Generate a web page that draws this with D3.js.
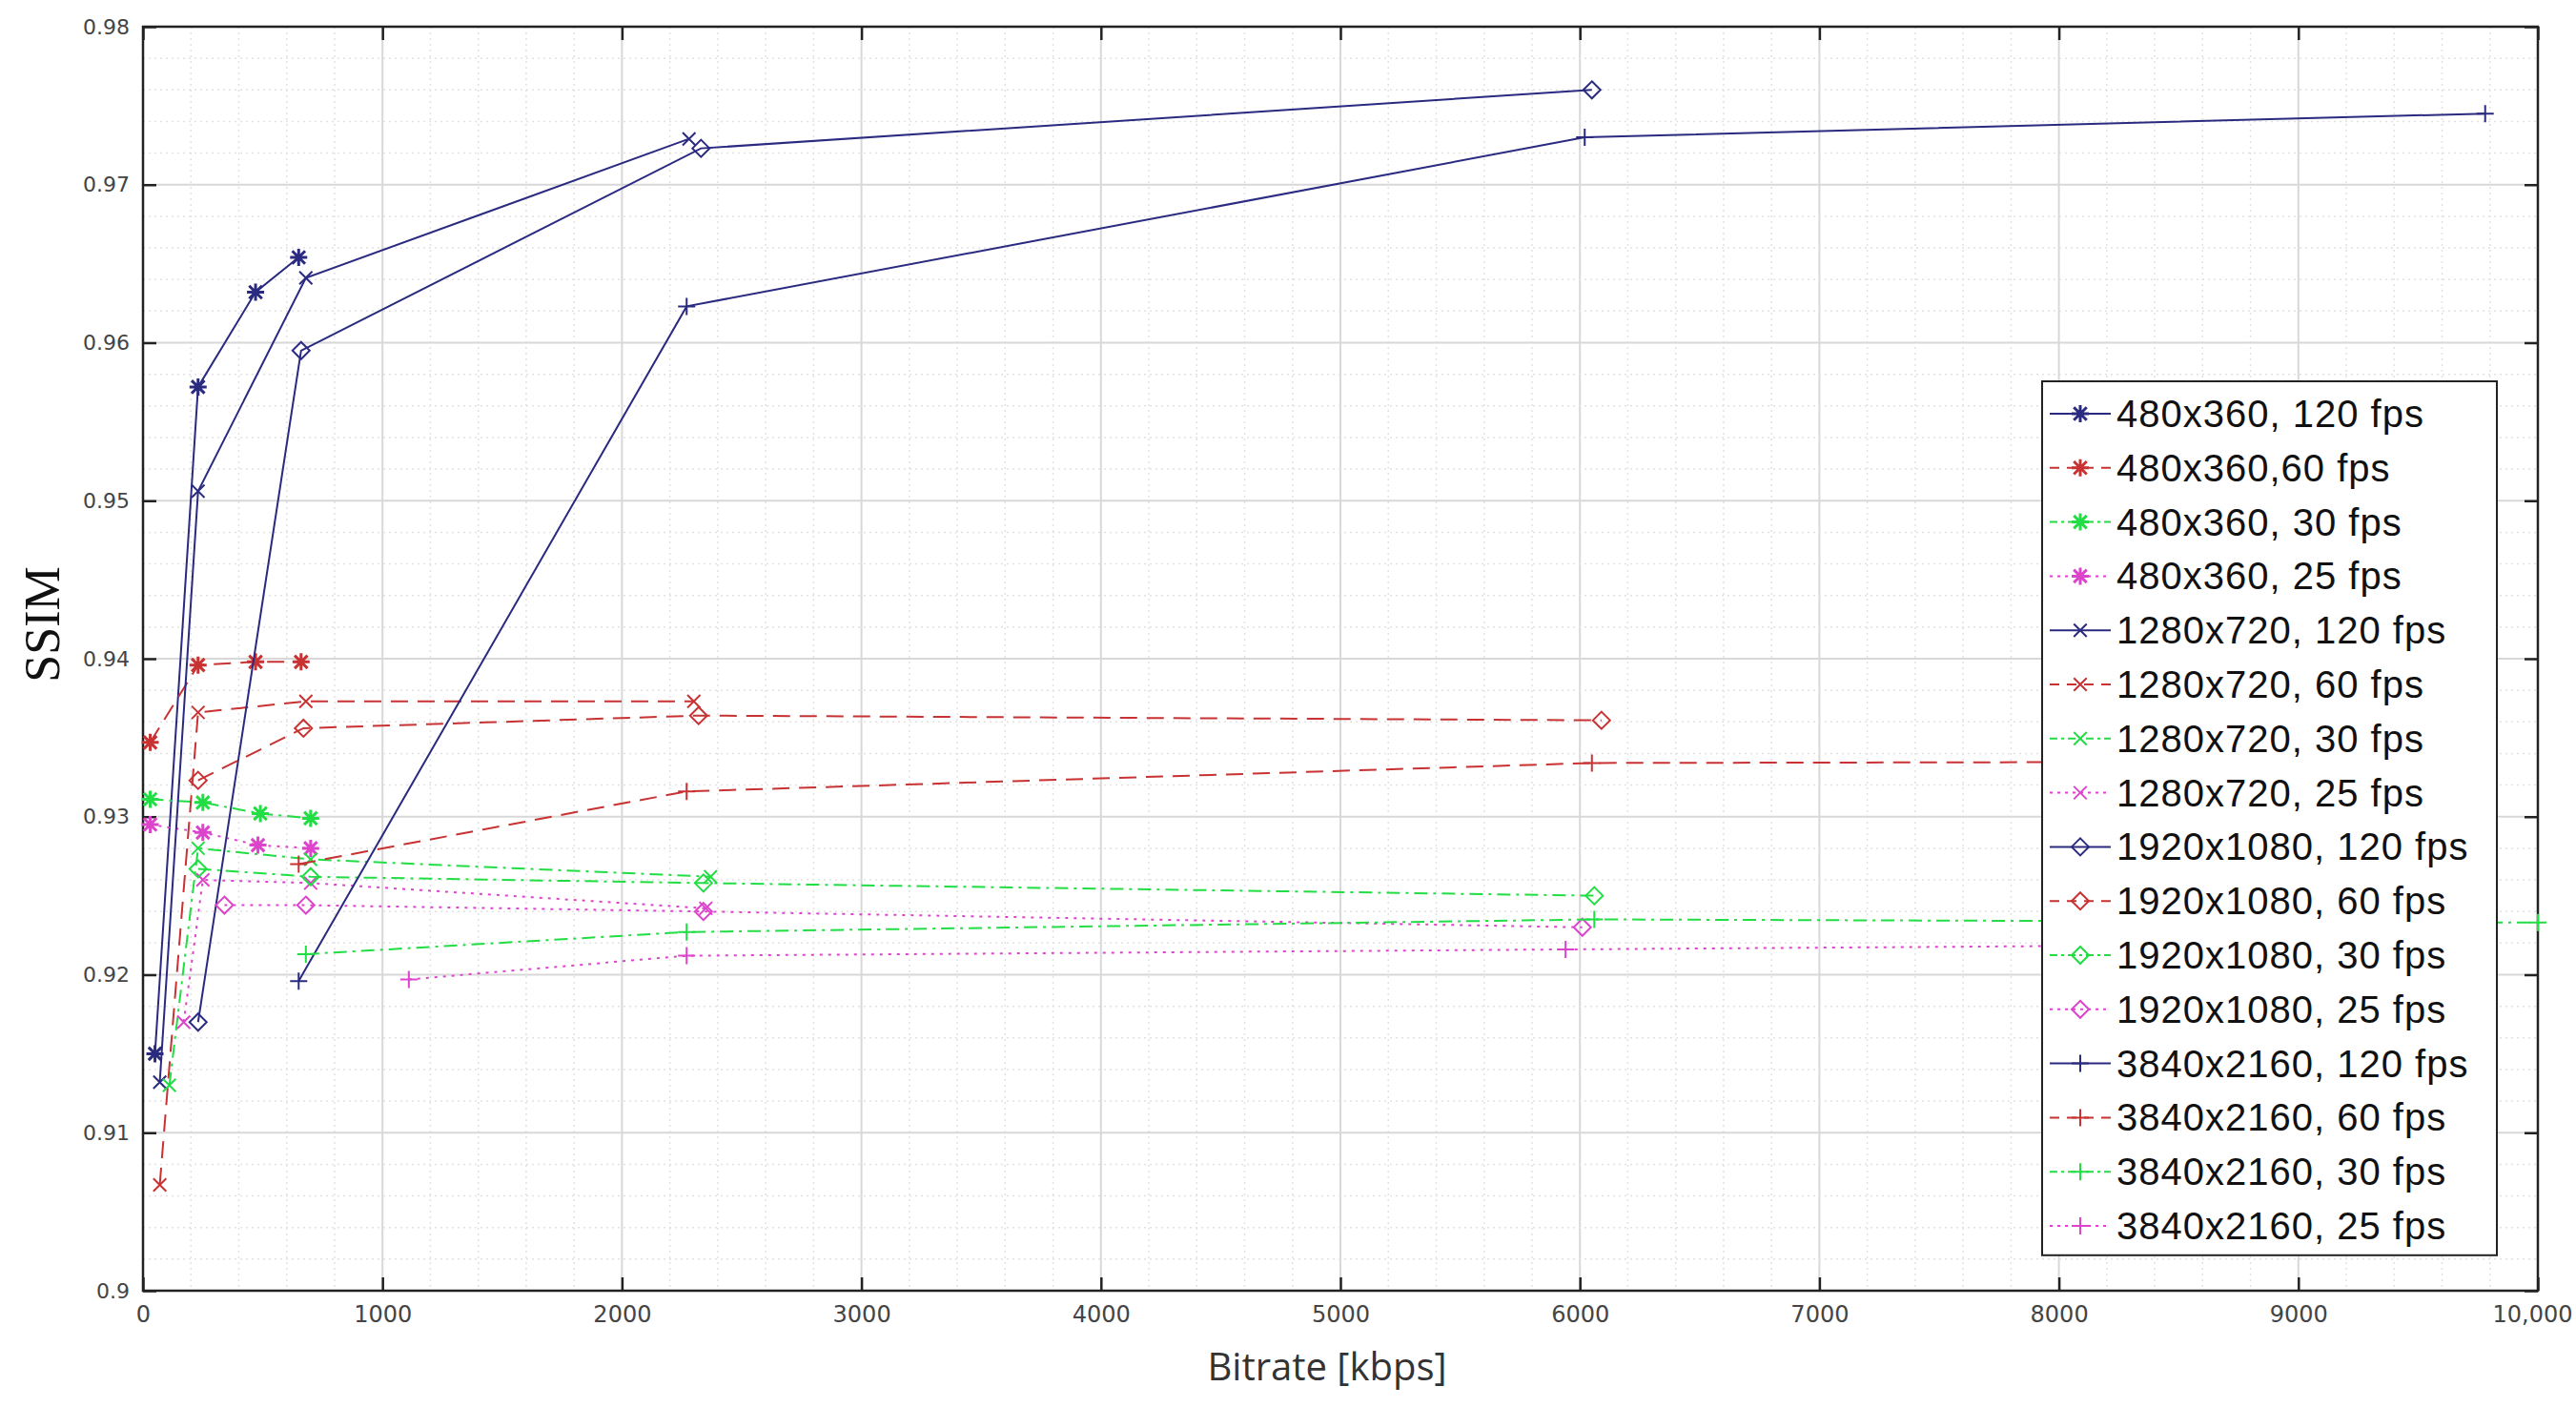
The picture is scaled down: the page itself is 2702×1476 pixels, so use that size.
<!DOCTYPE html>
<html><head><meta charset="utf-8">
<script src="https://cdn.jsdelivr.net/npm/d3@7"></script>
<style>body{margin:0;background:#fff}</style></head>
<body><svg id="chart" width="2702" height="1476"></svg>
<script>
// series labels, in legend order
var labels = ["480x360, 120 fps","480x360,60 fps","480x360, 30 fps","480x360, 25 fps",
  "1280x720, 120 fps","1280x720, 60 fps","1280x720, 30 fps","1280x720, 25 fps",
  "1920x1080, 120 fps","1920x1080, 60 fps","1920x1080, 30 fps","1920x1080, 25 fps",
  "3840x2160, 120 fps","3840x2160, 60 fps","3840x2160, 30 fps","3840x2160, 25 fps"];
var bitrates = [
  [50,230,470,650],[30,230,470,660],[30,250,490,700],[30,250,480,700],
  [70,230,680,2280],[70,230,680,2300],[110,230,700,2370],[170,250,700,2350],
  [230,660,2330,6050],[230,670,2320,6090],[230,700,2340,6060],[340,680,2340,6010],
  [650,2270,6020,9780],[650,2270,6050,9780],[680,2270,6060,10000],[1110,2270,5940,9780]];
var ssim = [
  [0.915,0.9572,0.9632,0.9654],[0.9347,0.9396,0.9398,0.9398],[0.9311,0.9309,0.9302,0.9299],[0.9295,0.929,0.9282,0.928],
  [0.9132,0.9506,0.9641,0.9729],[0.9067,0.9366,0.9373,0.9373],[0.913,0.928,0.9273,0.9262],[0.917,0.926,0.9258,0.9242],
  [0.917,0.9595,0.9723,0.976],[0.9323,0.9356,0.9364,0.9361],[0.9267,0.9262,0.9258,0.925],[0.9244,0.9244,0.924,0.923],
  [0.9196,0.9623,0.973,0.9745],[0.927,0.9316,0.9334,0.9335],[0.9213,0.9227,0.9235,0.9233],[0.9197,0.9212,0.9216,0.922]];
var xTicks = [0,1000,2000,3000,4000,5000,6000,7000,8000,9000,10000];
var yTicks = [0.9,0.91,0.92,0.93,0.94,0.95,0.96,0.97,0.98];

var colors = ["#2a2a80","#c83232","#22dd44","#dd44cc"];
var dashes = [null,"18,10","14,6,3,6","3,6"];
var markers = ["star","star","star","star","x","x","x","x","diamond","diamond","diamond","diamond","plus","plus","plus","plus"];

var svg = d3.select("#chart");
var L = 150, R = 2662, T = 28, B = 1354;
var x = d3.scaleLinear().domain([0,10000]).range([L,R]);
var y = d3.scaleLinear().domain([0.9,0.98]).range([B,T]);

// grid
var g = svg.append("g");
d3.range(0,10001,200).forEach(function(v){
  g.append("line").attr("x1",x(v)).attr("x2",x(v)).attr("y1",T).attr("y2",B)
   .attr("stroke", v%1000==0 ? "#d8d8d8" : "#e2e2e2").attr("stroke-width", v%1000==0?2:1.5)
   .attr("stroke-dasharray", v%1000==0 ? null : "2,4");
});
d3.range(0,41).forEach(function(i){
  var v = 0.9 + i*0.002;
  g.append("line").attr("y1",y(v)).attr("y2",y(v)).attr("x1",L).attr("x2",R)
   .attr("stroke", i%5==0 ? "#d8d8d8" : "#e2e2e2").attr("stroke-width", i%5==0?2:1.5)
   .attr("stroke-dasharray", i%5==0 ? null : "2,4");
});

svg.append("rect").attr("x",L).attr("y",T).attr("width",R-L).attr("height",B-T)
  .attr("fill","none").attr("stroke","#222").attr("stroke-width",2.5);

var xAxis = d3.axisBottom(x).tickValues(xTicks).tickSize(-14).tickPadding(16)
  .tickFormat(function(d){ return d==10000 ? "10,000" : d; });
var yAxis = d3.axisLeft(y).tickValues(yTicks).tickSize(-14).tickPadding(14)
  .tickFormat(function(d){ return d==0.9 ? "0.9" : d3.format(".2f")(d); });
var ax = svg.append("g").attr("transform","translate(0,"+B+")").call(xAxis);
var ay = svg.append("g").attr("transform","translate("+L+",0)").call(yAxis);
svg.append("g").attr("transform","translate(0,"+T+")").call(d3.axisTop(x).tickValues(xTicks).tickSize(-14).tickFormat(""));
svg.append("g").attr("transform","translate("+R+",0)").call(d3.axisRight(y).tickValues(yTicks).tickSize(-14).tickFormat(""));
svg.selectAll(".domain").remove();
svg.selectAll(".tick line").attr("stroke","#222").attr("stroke-width",2.5);
ax.selectAll("text").attr("font-family","DejaVu Sans").attr("font-size",24).attr("fill","#444")
  .filter(function(d){ return d==10000; }).attr("text-anchor","end").attr("dx",36);
ay.selectAll("text").attr("font-family","DejaVu Sans").attr("font-size",22).attr("fill","#444");

svg.append("text").attr("x",1392).attr("y",1448).attr("text-anchor","middle")
  .attr("font-family","Open Sans").attr("font-size",40).attr("fill","#333").text("Bitrate [kbps]");
svg.append("text").attr("transform","translate(62,655) rotate(-90)").attr("text-anchor","middle")
  .attr("font-family","Liberation Serif").attr("font-size",52).attr("fill","#111").text("SSIM");

function marker(sel, type, cx, cy, col){
  var s = 9, p;
  if (type=="diamond"){
    sel.append("path").attr("d","M"+cx+","+(cy-s)+"L"+(cx+s)+","+cy+"L"+cx+","+(cy+s)+"L"+(cx-s)+","+cy+"Z")
      .attr("fill","none").attr("stroke",col).attr("stroke-width",2);
    return;
  }
  p = "";
  if (type=="plus"||type=="star") p += "M"+(cx-s)+","+cy+"H"+(cx+s)+"M"+cx+","+(cy-s)+"V"+(cy+s);
  if (type=="x"||type=="star") { var k=s*0.75; p += "M"+(cx-k)+","+(cy-k)+"L"+(cx+k)+","+(cy+k)+"M"+(cx-k)+","+(cy+k)+"L"+(cx+k)+","+(cy-k); }
  sel.append("path").attr("d",p).attr("stroke",col).attr("stroke-width",type=="star"?3:2).attr("fill","none");
}

var line = d3.line().x(function(d){return x(d[0]);}).y(function(d){return y(d[1]);});
var plot = svg.append("g");
labels.forEach(function(lab,i){
  var col = colors[i%4];
  var pts = bitrates[i].map(function(b,j){ return [b, ssim[i][j]]; });
  plot.append("path").datum(pts).attr("d",line).attr("fill","none")
    .attr("stroke",col).attr("stroke-width",2).attr("stroke-dasharray",dashes[i%4]);
  pts.forEach(function(p){ marker(plot, markers[i], x(p[0]), y(p[1]), col); });
});

// legend
var lx = 2142, ly = 400, lw = 477, rowH = 56.8;
var leg = svg.append("g");
leg.append("rect").attr("x",lx).attr("y",ly).attr("width",lw).attr("height",rowH*16+ 8)
  .attr("fill","#fff").attr("stroke","#222").attr("stroke-width",2);
labels.forEach(function(lab,i){
  var cy = ly + 34 + i*rowH, col = colors[i%4];
  leg.append("line").attr("x1",lx+8).attr("x2",lx+72).attr("y1",cy).attr("y2",cy)
    .attr("stroke",col).attr("stroke-width",2).attr("stroke-dasharray", i%4==0 ? null : (i%4==1?"10,8":(i%4==2?"8,4,3,4":"3,5")));
  marker(leg, markers[i], lx+40, cy, col);
  leg.append("text").attr("x",lx+78).attr("y",cy+14).attr("font-family","Liberation Sans")
    .attr("font-size",40).attr("letter-spacing",1).attr("fill","#111").text(lab);
});
</script></body></html>
